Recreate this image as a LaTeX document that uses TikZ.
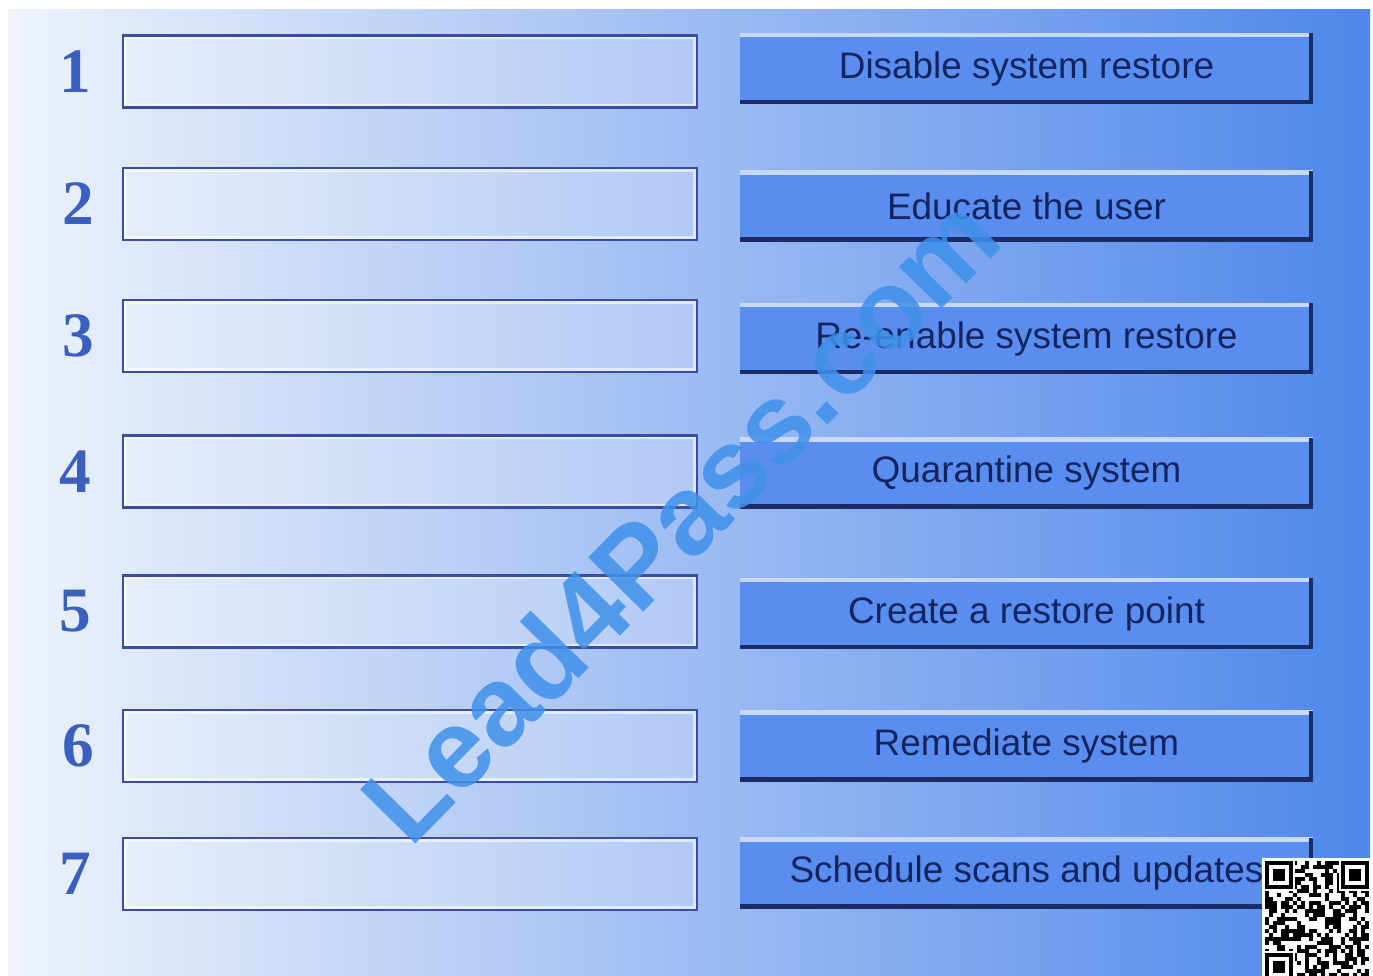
\documentclass[tikz,border=0pt]{standalone}
\usepackage{fontspec}
\setmainfont{Liberation Serif}
\newfontfamily\btnfont{Liberation Sans}
\usepackage{xcolor}
\usepackage{tikz}
\usetikzlibrary{positioning}

\definecolor{bgleft}{HTML}{EEF3FC}
\definecolor{bgmid}{HTML}{B4CBF4}
\definecolor{bgright}{HTML}{4E86EA}
\definecolor{btnfill}{HTML}{5A8DF0}
\definecolor{btnedge}{HTML}{1A2B66}
\definecolor{btnlight}{HTML}{C8D8F8}
\definecolor{btntext}{HTML}{14245E}
\definecolor{slotline}{HTML}{3B4CA6}
\definecolor{numblue}{HTML}{3A5FBE}
\definecolor{wmblue}{HTML}{3F90EA}

\tikzset{
  slot/.style={draw=slotline, line width=1.3pt, fill=white, fill opacity=0.2,
    minimum width=11.48cm, minimum height=1.44cm,
    path picture={\draw[white, opacity=0.6, line width=4pt]
      (path picture bounding box.south west) rectangle (path picture bounding box.north east);}},
  stepnum/.style={font=\bfseries\fontsize{36}{36}\selectfont, text=numblue, inner sep=0pt},
  answer/.style={fill=btnfill, minimum width=11.46cm, minimum height=1.42cm, text=btntext,
    font=\btnfont\fontsize{21}{21}\selectfont,
    path picture={
      \draw[btnlight, line width=5pt] (path picture bounding box.north west) -- (path picture bounding box.north east);
      \draw[btnedge, line width=5pt] (path picture bounding box.south west) -- (path picture bounding box.south east)
        -- (path picture bounding box.north east);}},
  watermark/.style={font=\btnfont\bfseries\fontsize{64}{64}\selectfont, text=wmblue, text opacity=0.85},
  qrbox/.style={fill=white, minimum width=2.16cm, minimum height=2.4cm, inner sep=0pt}
}

\begin{document}
\begin{tikzpicture}[x=0.02cm, y=-0.02cm]
	% Background:
	\fill[white] (0, 0) rectangle (1373, 976);
	\useasboundingbox (0, 0) rectangle (1373, 976);
	\shade[left color=bgleft, middle color=bgmid, right color=bgright] (8, 10) rectangle (1370, 976);

	% Empty slots and their numbers:
	\node[slot](slot1) at (410, 71.5){};
	\node[slot](slot2) at (410, 204){};
	\node[slot](slot3) at (410, 336){};
	\node[slot](slot4) at (410, 471.5){};
	\node[slot](slot5) at (410, 611.5){};
	\node[slot](slot6) at (410, 746){};
	\node[slot](slot7) at (410, 874){};
	\node[stepnum, left=0.6cm of slot1](num1){1};
	\node[stepnum, left=0.55cm of slot2](num2){2};
	\node[stepnum, left=0.55cm of slot3](num3){3};
	\node[stepnum, left=0.6cm of slot4](num4){4};
	\node[stepnum, left=0.6cm of slot5](num5){5};
	\node[stepnum, left=0.55cm of slot6](num6){6};
	\node[stepnum, left=0.6cm of slot7](num7){7};

	% Answer buttons:
	\node[answer](ans1) at (1026.5, 68.5){Disable system restore};
	\node[answer](ans2) at (1026.5, 206){Educate the user};
	\node[answer](ans3) at (1026.5, 338.5){Re-enable system restore};
	\node[answer](ans4) at (1026.5, 473){Quarantine system};
	\node[answer](ans5) at (1026.5, 613.5){Create a restore point};
	\node[answer](ans6) at (1026.5, 746){Remediate system};
	\node[answer](ans7) at (1026.5, 873){Schedule scans and updates};

	% Watermark:
	\node[watermark, rotate=45.5](wm) at (680, 518){Lead4Pass.com};

	% QR code:
	\node[qrbox, anchor=north west](qr) at (1262, 858){};
	\begin{scope}
		\clip (qr.north west) rectangle (qr.south east);
		\pgfmathsetseed{4}
		\foreach \i in {0,...,25}{
			\foreach \j in {0,...,28}{
				\pgfmathrandominteger{\qb}{0}{1}
				\ifnum\qb=1 \fill[black] (1265+4*\i, 861+4*\j) rectangle ++(4, 4); \fi
			}
		}
		\foreach \fx/\fy in {1265/861, 1341/861, 1265/953}{
			\fill[white] (\fx-2, \fy-2) rectangle ++(32, 32);
			\fill[black] (\fx, \fy) rectangle ++(28, 28);
			\fill[white] (\fx+4, \fy+4) rectangle ++(20, 20);
			\fill[black] (\fx+8, \fy+8) rectangle ++(12, 12);
		}
	\end{scope}
\end{tikzpicture}
\end{document}
